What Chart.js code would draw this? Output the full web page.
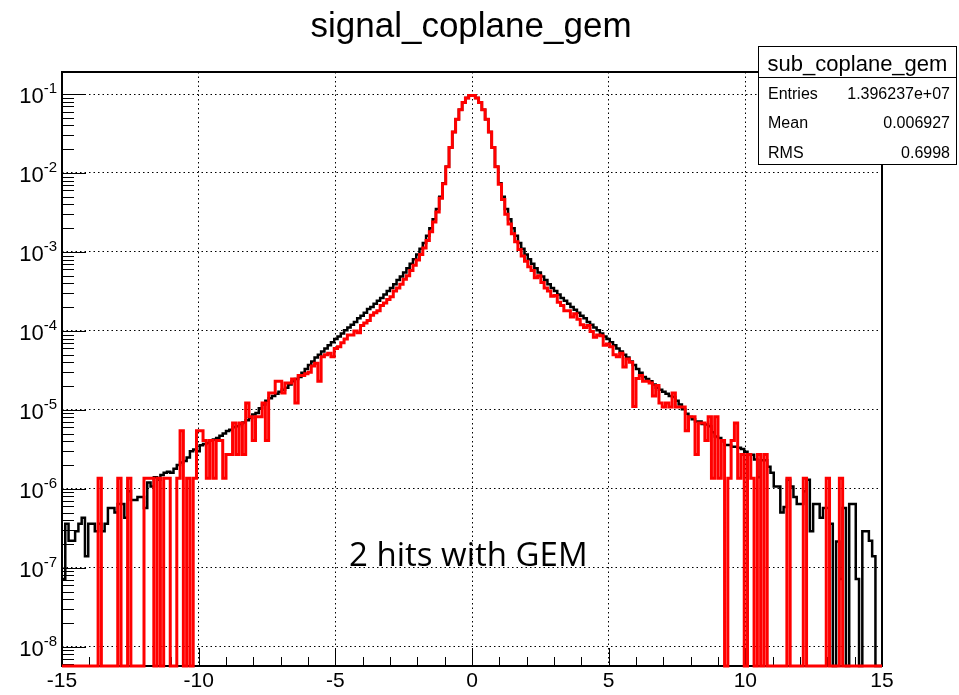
<!DOCTYPE html>
<html>
<head>
<meta charset="utf-8">
<title>signal_coplane_gem</title>
<script src="https://cdn.jsdelivr.net/npm/chart.js@4.4.1/dist/chart.umd.min.js"></script>
<style>
  html, body { margin: 0; padding: 0; background: #fff; }
  #wrap { width: 959px; height: 695px; position: relative; }
</style>
</head>
<body>
<div id="wrap"><canvas id="hist"></canvas></div>
<script>
// Histogram binning (250 bins of 0.12 from -15 to 15)
const X_MIN = -15;
const X_MAX = 15;
const BIN_W = 0.12;
const Y_MIN = 5.7e-9;
const Y_MAX = 0.19;

const xMajorTicks = [-15, -10, -5, 0, 5, 10, 15];
const xTickLabels = ['-15', '-10', '-5', '0', '5', '10', '15'];
const yDecades = [-8, -7, -6, -5, -4, -3, -2, -1];

const histTitle = 'signal_coplane_gem';
const statsName = 'sub_coplane_gem';
const statsRows = [['Entries', '1.396237e+07'], ['Mean', '0.006927'], ['RMS', '0.6998']];
const noteText = '2 hits with GEM';

// black: all events, bin contents (0 = empty bin)
const blackValues = [
  7.2e-8, 3.6e-7, 2.2e-7, 2.2e-7, 2.9e-7, 3.6e-7, 4.3e-7, 1.4e-7, 3.6e-7, 3.6e-7,
  2.9e-7, 3.6e-7, 2.9e-7, 3.6e-7, 5.7e-7, 5.7e-7, 5.0e-7, 6.4e-7, 6.4e-7, 4.3e-7,
  9.3e-7, 7.2e-7, 7.2e-7, 7.9e-7, 7.9e-7, 5.7e-7, 1.2e-6, 1.07e-6, 1.4e-6, 1.3e-6,
  1.5e-6, 1.6e-6, 1.65e-6, 1.6e-6, 1.8e-6, 2.0e-6, 2.15e-6, 2.25e-6, 2.5e-6, 3.0e-6,
  3.15e-6, 3.0e-6, 3.55e-6, 3.7e-6, 3.8e-6, 4.1e-6, 4.2e-6, 4.4e-6, 4.7e-6, 5.0e-6,
  5.4e-6, 5.6e-6, 6.0e-6, 6.2e-6, 6.6e-6, 6.9e-6, 7.4e-6, 7.9e-6, 8.7e-6, 9.1e-6,
  1.05e-5, 1.17e-5, 1.3e-5, 1.4e-5, 1.5e-5, 1.6e-5, 1.7e-5, 1.8e-5, 1.9e-5, 2.1e-5,
  2.3e-5, 2.45e-5, 2.6e-5, 2.95e-5, 3.3e-5, 3.7e-5, 4.1e-5, 4.6e-5, 5.0e-5, 5.5e-5,
  6.0e-5, 6.6e-5, 7.2e-5, 7.9e-5, 8.5e-5, 9.3e-5, 1.02e-4, 1.1e-4, 1.2e-4, 1.3e-4,
  1.45e-4, 1.55e-4, 1.7e-4, 1.9e-4, 2.0e-4, 2.2e-4, 2.4e-4, 2.6e-4, 2.9e-4, 3.2e-4,
  3.5e-4, 3.9e-4, 4.4e-4, 4.9e-4, 5.5e-4, 6.2e-4, 7.1e-4, 8.1e-4, 9.3e-4, 1.1e-3,
  1.3e-3, 1.6e-3, 2.0e-3, 2.6e-3, 3.5e-3, 5.0e-3, 7.4e-3, 1.2e-2, 2.1e-2, 3.3e-2,
  4.8e-2, 6.3e-2, 7.8e-2, 8.9e-2, 9.5e-2, 9.5e-2, 8.9e-2, 7.8e-2, 6.3e-2, 4.8e-2,
  3.3e-2, 2.1e-2, 1.2e-2, 7.4e-3, 5.0e-3, 3.5e-3, 2.6e-3, 2.0e-3, 1.6e-3, 1.3e-3,
  1.1e-3, 9.3e-4, 8.1e-4, 7.1e-4, 6.2e-4, 5.5e-4, 4.9e-4, 4.4e-4, 3.9e-4, 3.5e-4,
  3.2e-4, 2.9e-4, 2.6e-4, 2.4e-4, 2.2e-4, 2.0e-4, 1.85e-4, 1.7e-4, 1.55e-4, 1.45e-4,
  1.3e-4, 1.2e-4, 1.1e-4, 1.02e-4, 9.3e-5, 8.5e-5, 7.9e-5, 7.2e-5, 6.6e-5, 6.0e-5,
  5.5e-5, 5.0e-5, 4.6e-5, 4.1e-5, 3.7e-5, 3.3e-5, 2.95e-5, 2.6e-5, 2.45e-5, 2.3e-5,
  2.1e-5, 1.9e-5, 1.8e-5, 1.7e-5, 1.6e-5, 1.5e-5, 1.45e-5, 1.3e-5, 1.17e-5, 1.02e-5,
  8.9e-6, 8.1e-6, 7.6e-6, 7.1e-6, 7.1e-6, 6.6e-6, 6.5e-6, 6.2e-6, 5.2e-6, 4.6e-6,
  4.4e-6, 4.0e-6, 3.6e-6, 3.6e-6, 3.4e-6, 3.4e-6, 3.3e-6, 3.2e-6, 2.95e-6, 2.7e-6,
  2.7e-6, 2.35e-6, 1.4e-6, 2.3e-6, 2.3e-6, 1.9e-6, 1.6e-6, 1.07e-6, 1.07e-6, 5.0e-7,
  5.9e-7, 1.3e-6, 1.07e-6, 7.9e-7, 6.4e-7, 6.4e-7, 9.3e-7, 1.3e-6, 2.9e-7, 6.4e-7,
  6.4e-7, 4.3e-7, 5.7e-7, 5.7e-7, 3.6e-7, 0, 2.15e-7, 7.2e-8, 5.7e-7, 0,
  6.4e-7, 6.4e-7, 7.2e-8, 0, 2.9e-7, 2.9e-7, 2.2e-7, 1.4e-7, 0, 0
];

// red: 2 hits with GEM, bin contents (0 = empty bin)
const redValues = [
  0, 0, 0, 0, 0, 0, 0, 0, 0, 0,
  0, 1.36e-6, 0, 0, 0, 0, 0, 1.36e-6, 0, 0,
  1.36e-6, 0, 0, 0, 0, 1.36e-6, 1.36e-6, 1.36e-6, 0, 1.36e-6,
  0, 1.36e-6, 1.36e-6, 0, 0, 1.36e-6, 5.44e-6, 0, 1.36e-6, 0,
  1.36e-6, 5.44e-6, 5.44e-6, 4.08e-6, 1.36e-6, 4.08e-6, 1.36e-6, 4.08e-6, 4.08e-6, 1.36e-6,
  2.72e-6, 2.72e-6, 6.8e-6, 2.72e-6, 6.8e-6, 2.72e-6, 1.22e-5, 8.16e-6, 4.08e-6, 8.16e-6,
  8.16e-6, 1.22e-5, 4.08e-6, 1.63e-5, 1.63e-5, 2.31e-5, 2.31e-5, 1.63e-5, 2.18e-5, 2.18e-5,
  2.45e-5, 1.22e-5, 2.72e-5, 2.72e-5, 2.86e-5, 2.99e-5, 3.6e-5, 3.9e-5, 2.3e-5, 4.7e-5,
  5.0e-5, 5.2e-5, 4.7e-5, 6.0e-5, 6.3e-5, 7.1e-5, 7.9e-5, 8.9e-5, 8.9e-5, 1.0e-4,
  9.5e-5, 1.17e-4, 1.26e-4, 1.35e-4, 1.58e-4, 1.7e-4, 1.8e-4, 2.1e-4, 2.25e-4, 2.5e-4,
  2.7e-4, 3.2e-4, 3.5e-4, 3.9e-4, 4.5e-4, 5.0e-4, 5.8e-4, 6.8e-4, 7.9e-4, 9.3e-4,
  1.12e-3, 1.4e-3, 1.8e-3, 2.4e-3, 3.2e-3, 4.8e-3, 7.3e-3, 1.2e-2, 2.1e-2, 3.3e-2,
  4.8e-2, 6.3e-2, 7.8e-2, 8.9e-2, 9.6e-2, 9.6e-2, 8.9e-2, 7.8e-2, 6.3e-2, 4.8e-2,
  3.3e-2, 2.1e-2, 1.2e-2, 7.2e-3, 4.6e-3, 3.0e-3, 2.25e-3, 1.7e-3, 1.35e-3, 1.07e-3,
  8.9e-4, 7.6e-4, 6.5e-4, 5.8e-4, 4.7e-4, 5.0e-4, 4.1e-4, 3.5e-4, 3.2e-4, 2.75e-4,
  2.8e-4, 2.3e-4, 2.1e-4, 1.8e-4, 1.8e-4, 1.5e-4, 1.65e-4, 1.4e-4, 1.2e-4, 1.1e-4,
  1.17e-4, 9.8e-5, 8.3e-5, 8.9e-5, 8.7e-5, 6.6e-5, 6.8e-5, 6.3e-5, 5.0e-5, 4.7e-5,
  5.2e-5, 3.5e-5, 4.4e-5, 4.0e-5, 1.1e-5, 2.5e-5, 2.72e-5, 2.31e-5, 2.31e-5, 2.18e-5,
  1.5e-5, 2.04e-5, 1.22e-5, 1.09e-5, 1.22e-5, 1.09e-5, 1.63e-5, 1.09e-5, 1.09e-5, 1.09e-5,
  5.44e-6, 8.16e-6, 8.16e-6, 2.72e-6, 6.8e-6, 6.8e-6, 4.08e-6, 8.16e-6, 1.36e-6, 8.16e-6,
  1.36e-6, 4.08e-6, 0, 1.36e-6, 4.08e-6, 6.8e-6, 1.36e-6, 2.72e-6, 0, 2.72e-6,
  1.36e-6, 0, 2.72e-6, 0, 2.72e-6, 0, 0, 0, 0, 0,
  0, 1.36e-6, 0, 0, 0, 0, 1.36e-6, 0, 0, 0,
  0, 0, 0, 1.36e-6, 0, 0, 0, 1.36e-6, 0, 0,
  0, 0, 0, 0, 0, 0, 0, 0, 0, 0
];

// step points at the bin low edges, plus the closing edge; empty bins sit on the frame bottom
function toSteps(values) {
  const pts = values.map((v, i) => ({ x: X_MIN + i * BIN_W, y: v > 0 ? v : Y_MIN }));
  const last = values[values.length - 1];
  pts.push({ x: X_MAX, y: last > 0 ? last : Y_MIN });
  return pts;
}

const FONT = '"Liberation Sans", Arial, Helvetica, sans-serif';

// ROOT-like frame, inner ticks, labels, title and stats box
const rootDecor = {
  id: 'rootDecor',
  beforeDatasetsDraw(chart) {
    const c = chart.ctx;
    const a = chart.chartArea;
    const xs = chart.scales.x, ys = chart.scales.y;
    c.save();
    c.strokeStyle = '#000';
    c.lineWidth = 1;
    c.beginPath();
    // y ticks: decades and 2..9 subdivisions
    for (let e = -9; e <= 0; e++) {
      for (let m = 1; m <= 9; m++) {
        const v = m * Math.pow(10, e);
        if (v < Y_MIN || v > Y_MAX) continue;
        const y = Math.round(ys.getPixelForValue(v)) + 0.5;
        c.moveTo(a.left, y);
        c.lineTo(a.left + (m === 1 ? 24 : 12), y);
      }
    }
    // x ticks: every unit, longer every 5
    for (let t = X_MIN; t <= X_MAX; t++) {
      const x = Math.round(xs.getPixelForValue(t)) + 0.5;
      c.moveTo(x, a.bottom);
      c.lineTo(x, a.bottom - (t % 5 === 0 ? 18 : 9));
    }
    c.stroke();
    c.lineWidth = 2;
    c.strokeRect(a.left, a.top, a.right - a.left, a.bottom - a.top);
    c.restore();
  },
  afterDraw(chart) {
    const c = chart.ctx;
    const xs = chart.scales.x, ys = chart.scales.y;
    c.save();
    c.fillStyle = '#000';
    // title
    c.font = '35px ' + FONT;
    c.textAlign = 'center';
    c.textBaseline = 'alphabetic';
    c.fillText(histTitle, 471, 37);
    // x labels
    c.font = '21px ' + FONT;
    xMajorTicks.forEach((t, i) => {
      c.fillText(xTickLabels[i], xs.getPixelForValue(t), 687);
    });
    // y labels 10^n
    yDecades.forEach(e => {
      const y = ys.getPixelForValue(Math.pow(10, e));
      const exp = String(e);
      c.font = '15px ' + FONT;
      c.textAlign = 'right';
      c.fillText(exp, 57, y - 1);
      const ew = c.measureText(exp).width;
      c.font = '22px ' + FONT;
      c.fillText('10', 57 - ew, y + 9);
    });
    // stats box
    const bx = 758.5, by = 46.5, bw = 198, bh = 118;
    c.fillStyle = '#fff';
    c.fillRect(bx, by, bw, bh);
    c.strokeStyle = '#000';
    c.lineWidth = 1;
    c.strokeRect(bx, by, bw, bh);
    c.beginPath();
    c.moveTo(bx, 77.5);
    c.lineTo(bx + bw, 77.5);
    c.stroke();
    c.fillStyle = '#000';
    c.font = '22px ' + FONT;
    c.textAlign = 'center';
    c.fillText(statsName, bx + bw / 2, 71);
    c.font = '16px ' + FONT;
    statsRows.forEach((r, i) => {
      const y = 99 + i * 29.3;
      c.textAlign = 'left';
      c.fillText(r[0], 768, y);
      c.textAlign = 'right';
      c.fillText(r[1], 950, y);
    });
    // annotation
    c.font = '33px "Open Sans", sans-serif';
    c.textAlign = 'left';
    c.fillText(noteText, 349, 566);
    c.restore();
  }
};

const gridOpts = { color: '#000', lineWidth: 1, drawTicks: false };
const borderOpts = { display: false, dash: [1.5, 3] };

new Chart(document.getElementById('hist'), {
  type: 'line',
  data: {
    datasets: [
      {
        label: 'sub_coplane_gem (2 hits with GEM)',
        data: toSteps(redValues),
        borderColor: '#ff0000',
        borderWidth: 3,
        pointRadius: 0,
        stepped: 'before',
        fill: false,
        order: 1
      },
      {
        label: 'signal_coplane_gem',
        data: toSteps(blackValues),
        borderColor: '#000000',
        borderWidth: 2.5,
        pointRadius: 0,
        stepped: 'before',
        fill: false,
        order: 2
      }
    ]
  },
  options: {
    responsive: true,
    maintainAspectRatio: false,
    animation: false,
    clip: false,
    parsing: false,
    layout: { padding: { left: 62, top: 72, right: 77, bottom: 29 } },
    plugins: {
      legend: { display: false },
      tooltip: { enabled: false },
      title: { display: false }
    },
    scales: {
      x: {
        type: 'linear',
        min: X_MIN,
        max: X_MAX,
        afterBuildTicks: s => { s.ticks = xMajorTicks.map(v => ({ value: v })); },
        ticks: { display: false },
        grid: gridOpts,
        border: borderOpts
      },
      y: {
        type: 'logarithmic',
        min: Y_MIN,
        max: Y_MAX,
        afterBuildTicks: s => { s.ticks = yDecades.map(e => ({ value: Math.pow(10, e) })); },
        ticks: { display: false },
        grid: gridOpts,
        border: borderOpts
      }
    }
  },
  plugins: [rootDecor]
});
</script>
</body>
</html>
